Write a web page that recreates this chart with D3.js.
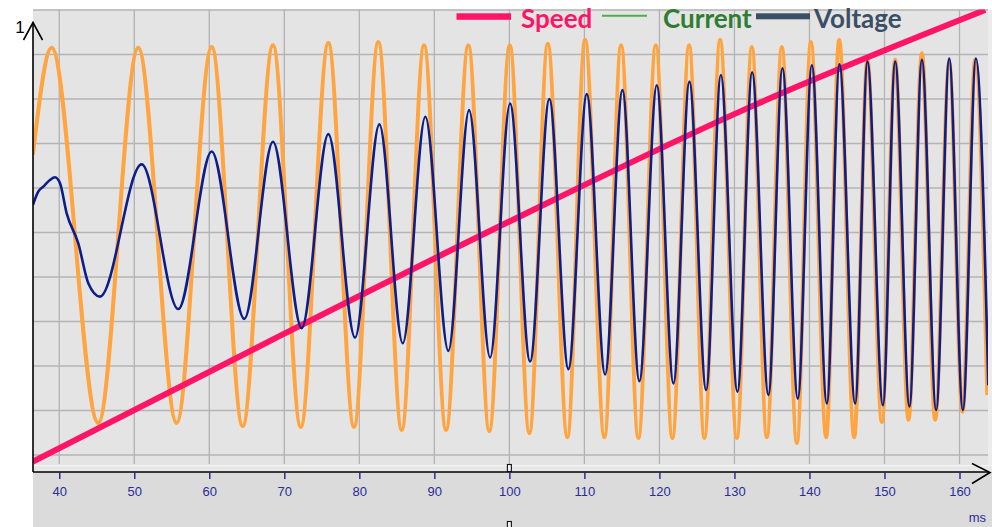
<!DOCTYPE html>
<html>
<head>
<meta charset="utf-8">
<script src="https://cdn.jsdelivr.net/npm/d3@7"></script>
<style>
  html, body { margin: 0; padding: 0; background: #fff; }
  svg { display: block; }
</style>
</head>
<body>
<div id="chart"></div>
<script>
// time axis in ms, amplitudes normalised to the scope's full scale (0..1)
const xTicks = [40, 50, 60, 70, 80, 90, 100, 110, 120, 130, 140, 150, 160];
const yGrid = [0, 0.1, 0.2, 0.3, 0.4, 0.5, 0.6, 0.7, 0.8, 0.9, 1];

const speedTime = [36.49, 68.76, 100.76, 132.36, 163.43];
const speedValue = [-0.015, 0.262, 0.531, 0.784, 1.0];

// current: peaks and troughs of the chirp
const currentTime = [36.49, 38.99, 45.2, 50.53, 55.65, 60.32, 64.45, 68.49, 72.19, 75.87,
  79.29, 82.53, 85.65, 88.63, 91.56, 94.53, 97.33, 100.05, 102.67, 105.12,
  107.73, 110.09, 112.67, 114.89, 117.2, 119.52, 121.73, 123.96, 126.0, 128.09,
  130.32, 132.32, 134.32, 136.32, 138.32, 140.19, 142.23, 143.96, 145.96, 147.73,
  149.65, 151.43, 153.2, 154.99, 156.76, 158.63, 160.4, 162.09, 163.7];
const currentValue = [0.675, 0.915, 0.072, 0.915, 0.072, 0.917, 0.065, 0.921, 0.063, 0.926,
  0.063, 0.928, 0.056, 0.921, 0.056, 0.921, 0.054, 0.921, 0.049, 0.924,
  0.040, 0.933, 0.040, 0.921, 0.038, 0.921, 0.038, 0.921, 0.038, 0.933,
  0.038, 0.917, 0.040, 0.917, 0.027, 0.928, 0.040, 0.933, 0.040, 0.888,
  0.074, 0.888, 0.079, 0.903, 0.079, 0.883, 0.097, 0.888, 0.135];

// voltage: first cycle is irregular, the rest are peaks and troughs
const voltageTime = [36.49, 37.2, 37.86, 38.76, 39.43, 40.09, 40.99, 42.53, 43.87, 45.43,
  50.99, 55.87, 60.32, 64.67, 68.49, 72.32, 75.87, 79.43, 82.67, 85.79,
  88.8, 91.87, 94.63, 97.43, 100.09, 102.76, 105.33, 107.87, 110.32, 112.76,
  115.07, 117.33, 119.65, 121.87, 124.0, 126.23, 128.19, 130.4, 132.36, 134.53,
  136.4, 138.45, 140.32, 142.32, 144.0, 146.09, 147.73, 149.79, 151.43, 153.33,
  154.99, 156.89, 158.63, 160.45, 162.19, 163.84];
const voltageValue = [0.562, 0.592, 0.603, 0.618, 0.624, 0.611, 0.543, 0.476, 0.386, 0.356,
  0.653, 0.328, 0.682, 0.306, 0.704, 0.285, 0.721, 0.264, 0.743, 0.251,
  0.760, 0.234, 0.775, 0.219, 0.790, 0.210, 0.800, 0.193, 0.811, 0.181,
  0.820, 0.166, 0.831, 0.161, 0.839, 0.146, 0.854, 0.142, 0.860, 0.135,
  0.869, 0.127, 0.876, 0.116, 0.878, 0.116, 0.884, 0.112, 0.884, 0.109,
  0.888, 0.101, 0.891, 0.101, 0.891, 0.157];

const legendNames = ['Speed', 'Current', 'Voltage'];

const W = 992, H = 527;
const plot = { left: 33, right: 988, top: 9.5, bottom: 465 };
const axisY = 472;

const x = d3.scaleLinear().domain([36.5, 163.8]).range([plot.left, plot.right]);
const y = d3.scaleLinear().domain([0, 1]).range([455, 10]);

const svg = d3.select('#chart').append('svg')
  .attr('width', W)
  .attr('height', H);

// backgrounds
svg.append('rect')
  .attr('x', plot.left).attr('y', plot.bottom)
  .attr('width', W - plot.left).attr('height', H - plot.bottom)
  .attr('fill', '#dbdbdb');
svg.append('rect')
  .attr('x', plot.left).attr('y', plot.bottom)
  .attr('width', W - plot.left).attr('height', axisY - plot.bottom)
  .attr('fill', '#e8e8e8');
svg.append('line')
  .attr('x1', plot.left).attr('x2', W)
  .attr('y1', plot.bottom + 0.5).attr('y2', plot.bottom + 0.5)
  .attr('stroke', '#f4f4f4');
svg.append('rect')
  .attr('x', plot.right).attr('y', plot.top)
  .attr('width', W - plot.right).attr('height', plot.bottom - plot.top)
  .attr('fill', '#ececec');
svg.append('rect')
  .attr('x', plot.left).attr('y', plot.top)
  .attr('width', plot.right - plot.left).attr('height', plot.bottom - plot.top)
  .attr('fill', '#e4e4e4');

// grid
svg.append('g')
  .selectAll('line')
  .data(xTicks)
  .join('line')
  .attr('x1', d => x(d)).attr('x2', d => x(d))
  .attr('y1', plot.top).attr('y2', plot.bottom - 1)
  .attr('stroke', '#b2b2b2')
  .attr('stroke-width', 1.3);

svg.append('g')
  .selectAll('line')
  .data(yGrid)
  .join('line')
  .attr('x1', plot.left).attr('x2', plot.right)
  .attr('y1', d => y(d)).attr('y2', d => y(d))
  .attr('stroke', '#b4b4b4')
  .attr('stroke-width', 1.7);

svg.append('clipPath')
  .attr('id', 'clip')
  .append('rect')
  .attr('x', plot.left).attr('y', plot.top)
  .attr('width', plot.right - plot.left).attr('height', plot.bottom - plot.top);

const line = d3.line()
  .x(d => x(d[0]))
  .y(d => y(d[1]))
  .curve(d3.curveMonotoneX);

const series = svg.append('g').attr('clip-path', 'url(#clip)');

series.append('path')
  .datum(d3.zip(currentTime, currentValue))
  .attr('fill', 'none')
  .attr('stroke', '#ffa43f')
  .attr('stroke-width', 4)
  .attr('stroke-linejoin', 'round')
  .attr('d', line);

series.append('path')
  .datum(d3.zip(speedTime, speedValue))
  .attr('fill', 'none')
  .attr('stroke', '#ff1466')
  .attr('stroke-width', 6)
  .attr('d', line);

series.append('path')
  .datum(d3.zip(voltageTime, voltageValue))
  .attr('fill', 'none')
  .attr('stroke', '#0b1e8c')
  .attr('stroke-width', 2.6)
  .attr('stroke-linejoin', 'round')
  .attr('d', line);

// axes with arrows
const axes = svg.append('g')
  .attr('fill', 'none')
  .attr('stroke', '#000')
  .attr('stroke-width', 1.6);
axes.append('line')
  .attr('x1', plot.left).attr('x2', plot.left)
  .attr('y1', 22.5).attr('y2', axisY);
axes.append('polyline')
  .attr('points', `${plot.left - 9.5},40 ${plot.left},22.5 ${plot.left + 9.5},40`);
axes.append('line')
  .attr('x1', plot.left).attr('x2', 989)
  .attr('y1', axisY).attr('y2', axisY);
axes.append('polyline')
  .attr('points', `972,463.5 990,472.5 972,483.5`);

svg.append('text')
  .attr('x', 20).attr('y', 33)
  .attr('text-anchor', 'middle')
  .style('font', '17px "Liberation Sans", Arial, sans-serif')
  .text('1');

const xAxis = svg.append('g')
  .attr('transform', `translate(0,${axisY})`)
  .call(d3.axisBottom(x).tickValues(xTicks).tickSize(7).tickPadding(8).tickFormat(d3.format('d')));
xAxis.select('.domain').remove();
xAxis.selectAll('.tick line')
  .attr('stroke', '#22228c')
  .attr('stroke-width', 1.4);
xAxis.selectAll('.tick text')
  .attr('fill', '#2b2b98')
  .style('font', '13px "Liberation Sans Narrow", "Arial Narrow", "Liberation Sans", sans-serif');

svg.append('text')
  .attr('x', 986).attr('y', 522)
  .attr('text-anchor', 'end')
  .attr('fill', '#2b2b98')
  .style('font', '13px "Liberation Sans Narrow", "Arial Narrow", "Liberation Sans", sans-serif')
  .text('ms');

// cursor handles at 100 ms
svg.append('g')
  .selectAll('rect')
  .data([464.5, 521.5])
  .join('rect')
  .attr('x', x(100) - 2).attr('y', d => d)
  .attr('width', 4).attr('height', 7)
  .attr('fill', '#f2f2f2')
  .attr('stroke', '#111')
  .attr('stroke-width', 1.1);

// legend
const legendFont = 'bold 26px Lato, "Liberation Sans", sans-serif';
const legend = svg.append('g').attr('class', 'legend');

legend.append('rect')
  .attr('x', 456.5).attr('y', 13.3).attr('width', 54.5).attr('height', 6.5)
  .attr('fill', '#ff1466');
legend.append('line')
  .attr('x1', 602).attr('x2', 647).attr('y1', 15.7).attr('y2', 15.7)
  .attr('stroke', '#4cae4c').attr('stroke-width', 2);
legend.append('rect')
  .attr('x', 756).attr('y', 13.3).attr('width', 54).attr('height', 6)
  .attr('fill', '#3a4f66');

legend.selectAll('text')
  .data(legendNames)
  .join('text')
  .attr('x', (d, i) => [521, 663, 814][i])
  .attr('y', 28)
  .attr('fill', (d, i) => ['#ff1466', '#2e7d32', '#3a4f66'][i])
  .style('font', legendFont)
  .text(d => d);
</script>
</body>
</html>
